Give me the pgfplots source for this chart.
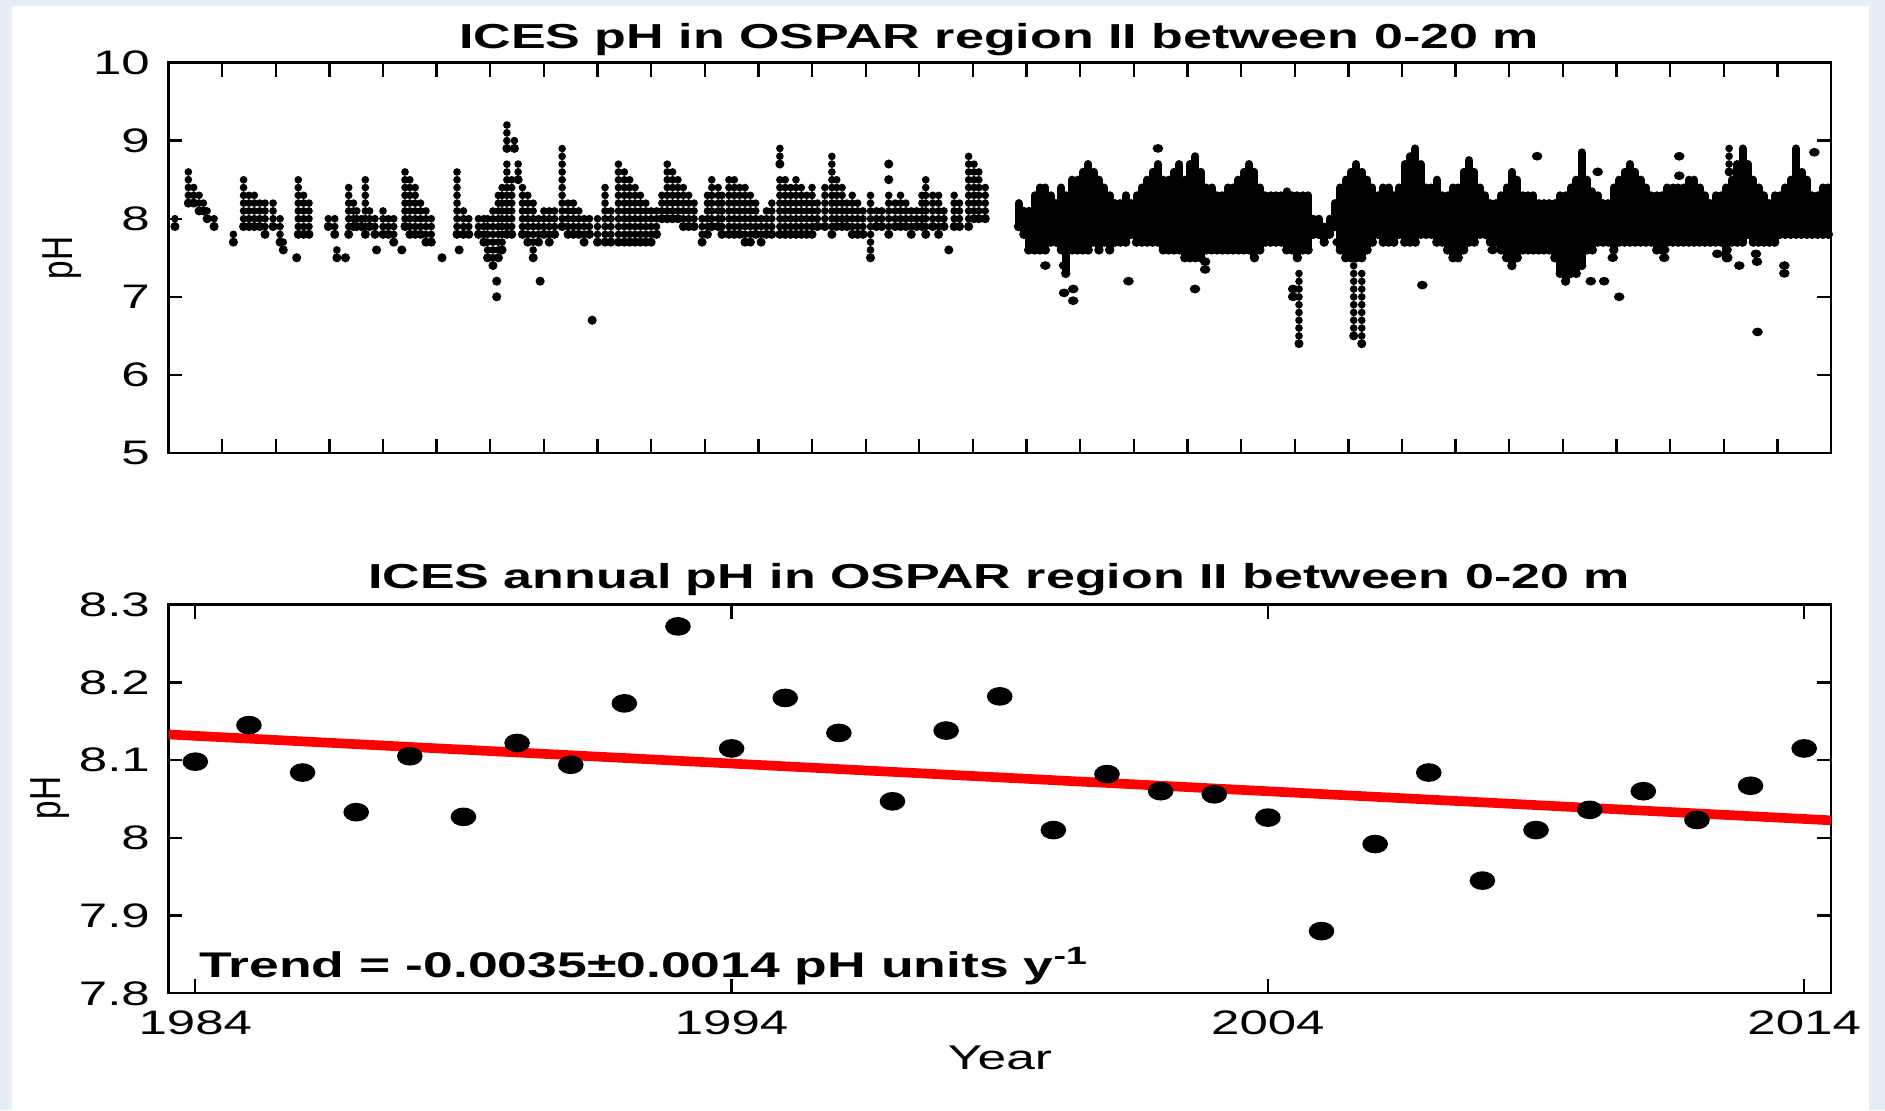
\documentclass[border=0pt]{standalone}
\usepackage{pgfplots}
\pgfplotsset{compat=1.18}
\usepackage{fontspec}
\setmainfont{Liberation Sans}
\usepackage{graphicx}
\definecolor{bgblue}{RGB}{232,238,246}
\newcommand{\hs}[1]{\scalebox{1.5}[1]{#1}}
\newcommand{\tkfont}{\fontsize{10.2pt}{12pt}\selectfont}

\begin{document}
\begin{tikzpicture}[x=1pt,y=1pt]
\useasboundingbox (0,0) rectangle (565.5,333);
\fill[bgblue] (0,0) rectangle (565.5,333);
\fill[white] (3.6,0) rectangle (560.7,331.2);

% ---------------- top panel ----------------
\begin{axis}[
  at={(50.55pt,197.1pt)}, anchor=south west,
  scale only axis, width=498.75pt, height=117.15pt,
  xmin=1984, xmax=2015, ymin=5, ymax=10,
  xtick={1985,1986,...,2014}, xticklabels={},
  ytick={5,6,7,8,9,10},
  yticklabels={\hs{5},\hs{6},\hs{7},\hs{8},\hs{9},\hs{10}},
  yticklabel style={anchor=east, inner sep=0pt, xshift=-5.4pt, font=\tkfont},
  major tick length=4.2pt,
  axis line style={line width=0.7pt},
  every tick/.style={black, line width=0.7pt},
  clip=true,
]
% columns of samples at 0.1 pH resolution: time, lowest, highest
\addplot[only marks, mark=*, mark size=1.15pt, black,
  error bars/.cd, y dir=plus, y explicit, error mark=none,
  error bar style={line width=2.3pt, line cap=round, dash pattern=on 0pt off 2.338pt}]
  table[x=t, y=lo, y error expr=\thisrow{hi}-\thisrow{lo}] {
t lo hi
1984.12 7.9 8.0
1984.37 8.2 8.6
1984.47 8.2 8.4
1984.57 8.1 8.3
1984.65 8.1 8.2
1984.72 8.0 8.1
1984.85 7.9 8.0
1985.21 7.7 7.8
1985.40 7.9 8.5
1985.50 7.9 8.3
1985.60 7.9 8.3
1985.70 7.9 8.2
1985.80 7.8 8.2
1985.95 7.9 8.2
1986.08 7.7 8.0
1986.14 7.6 7.7
1986.39 7.5 7.5
1986.42 7.8 8.5
1986.52 7.8 8.3
1986.62 7.8 8.2
1986.98 7.9 8.0
1987.10 7.8 8.0
1987.14 7.5 7.6
1987.30 7.5 7.5
1987.36 7.8 8.4
1987.45 7.9 8.2
1987.51 7.9 8.1
1987.60 7.9 8.0
1987.67 7.8 8.5
1987.75 7.9 8.1
1987.85 7.8 8.0
1987.88 7.6 7.6
1988.00 7.8 8.1
1988.10 7.8 8.0
1988.20 7.7 8.0
1988.35 7.6 7.6
1988.41 7.9 8.6
1988.50 7.8 8.5
1988.60 7.8 8.4
1988.70 7.8 8.2
1988.80 7.7 8.1
1988.90 7.7 8.0
1989.10 7.5 7.5
1989.38 7.8 8.6
1989.42 7.6 7.6
1989.50 7.8 8.1
1989.60 7.8 8.0
1989.78 7.8 8.0
1989.88 7.7 8.0
1989.95 7.5 8.0
1990.05 7.4 8.1
1990.12 7.2 7.2
1990.12 7.0 7.0
1990.15 7.5 8.3
1990.22 7.6 8.4
1990.31 8.9 9.2
1990.31 7.8 8.7
1990.40 7.8 8.5
1990.45 8.9 9.0
1990.52 8.5 8.7
1990.60 7.8 8.4
1990.70 7.7 8.3
1990.80 7.5 8.2
1990.90 7.7 8.0
1990.93 7.2 7.2
1991.00 7.8 8.1
1991.10 7.7 8.1
1991.20 7.8 8.1
1991.34 7.9 8.9
1991.45 7.8 8.2
1991.55 7.8 8.2
1991.65 7.8 8.1
1991.75 7.7 8.0
1991.85 7.8 8.0
1991.90 6.7 6.7
1992.00 7.7 8.0
1992.14 7.7 8.4
1992.25 7.7 8.1
1992.39 7.7 8.7
1992.50 7.7 8.6
1992.60 7.7 8.5
1992.70 7.7 8.4
1992.80 7.7 8.3
1992.90 7.7 8.2
1993.00 7.7 8.1
1993.10 7.8 8.1
1993.20 8.0 8.3
1993.30 8.0 8.7
1993.40 8.0 8.6
1993.50 8.0 8.5
1993.60 7.9 8.4
1993.70 7.9 8.3
1993.80 7.9 8.2
1993.95 7.7 8.0
1994.05 7.8 8.3
1994.13 7.9 8.5
1994.25 7.9 8.4
1994.32 7.8 8.3
1994.45 7.8 8.5
1994.55 7.8 8.5
1994.65 7.8 8.4
1994.75 7.7 8.4
1994.85 7.7 8.3
1994.95 7.8 8.2
1995.05 7.7 8.0
1995.15 7.8 8.1
1995.25 7.8 8.2
1995.40 8.7 8.9
1995.40 7.8 8.5
1995.50 7.8 8.5
1995.60 7.8 8.4
1995.70 7.8 8.5
1995.80 7.8 8.4
1995.90 7.8 8.3
1996.00 7.8 8.4
1996.10 7.9 8.2
1996.24 7.9 8.4
1996.37 7.8 8.8
1996.46 7.9 8.5
1996.56 7.9 8.4
1996.65 7.9 8.2
1996.75 7.8 8.3
1996.85 7.8 8.2
1996.95 7.8 8.1
1997.09 7.5 8.3
1997.20 7.9 8.1
1997.30 7.9 8.1
1997.43 8.5 8.5
1997.43 8.7 8.7
1997.43 7.8 8.3
1997.55 7.9 8.2
1997.65 7.9 8.3
1997.75 7.9 8.2
1997.85 7.8 8.1
1997.95 7.9 8.1
1998.05 7.9 8.3
1998.12 7.8 8.5
1998.25 7.9 8.3
1998.36 7.8 8.3
1998.46 7.9 8.1
1998.55 7.6 7.6
1998.65 7.9 8.3
1998.75 7.9 8.2
1998.92 7.9 8.8
1999.02 8.0 8.7
1999.11 8.0 8.6
1999.23 8.0 8.4
2005.08 6.4 7.3
2006.10 6.5 7.4
2006.25 6.4 7.3
2013.08 7.5 7.7
2013.10 8.6 8.9
};
% dense period: envelope of samples per time slice
\addplot[only marks, mark=*, mark size=1.2pt, black,
  error bars/.cd, y dir=plus, y explicit, error mark=none,
  error bar style={line width=2.4pt, line cap=round}]
  table[x=t, y=lo, y error expr=\thisrow{hi}-\thisrow{lo}] {
t lo hi
1999.85 7.9 8.2
1999.95 7.8 8.1
2000.04 7.6 8.1
2000.15 7.6 8.3
2000.25 7.6 8.4
2000.35 7.6 8.4
2000.45 7.7 8.3
2000.55 7.7 8.2
2000.65 7.6 8.4
2000.73 7.3 8.3
2000.85 7.6 8.5
2000.95 7.6 8.5
2001.05 7.6 8.6
2001.15 7.6 8.7
2001.25 7.7 8.6
2001.35 7.6 8.5
2001.45 7.7 8.4
2001.55 7.6 8.3
2001.65 7.7 8.2
2001.75 7.7 8.2
2001.85 7.7 8.3
2001.95 7.8 8.2
2002.05 7.7 8.3
2002.15 7.7 8.4
2002.25 7.7 8.5
2002.35 7.7 8.6
2002.45 7.7 8.7
2002.55 7.6 8.5
2002.65 7.6 8.5
2002.75 7.6 8.6
2002.85 7.6 8.7
2002.95 7.5 8.5
2003.05 7.5 8.7
2003.15 7.5 8.8
2003.25 7.5 8.6
2003.35 7.6 8.4
2003.45 7.6 8.4
2003.55 7.6 8.3
2003.65 7.6 8.3
2003.75 7.6 8.4
2003.85 7.6 8.4
2003.95 7.6 8.5
2004.05 7.6 8.6
2004.15 7.6 8.7
2004.25 7.5 8.6
2004.35 7.6 8.4
2004.45 7.7 8.3
2004.55 7.7 8.3
2004.65 7.7 8.3
2004.75 7.7 8.3
2004.85 7.6 8.35
2004.95 7.6 8.3
2005.05 7.5 8.3
2005.15 7.6 8.3
2005.25 7.6 8.3
2005.35 7.8 8.0
2005.45 7.8 8.0
2005.55 7.7 7.9
2005.65 7.8 8.0
2005.75 7.9 8.2
2005.85 7.6 8.4
2005.95 7.5 8.5
2006.05 7.5 8.6
2006.15 7.5 8.7
2006.25 7.5 8.6
2006.35 7.6 8.5
2006.45 7.7 8.4
2006.55 7.8 8.3
2006.65 7.7 8.4
2006.75 7.7 8.4
2006.85 7.7 8.3
2006.95 7.8 8.4
2007.05 7.7 8.7
2007.15 7.7 8.8
2007.25 7.7 8.9
2007.35 7.8 8.7
2007.45 7.8 8.4
2007.55 7.8 8.4
2007.65 7.7 8.5
2007.75 7.7 8.3
2007.85 7.6 8.3
2007.95 7.5 8.4
2008.05 7.5 8.4
2008.15 7.6 8.6
2008.25 7.7 8.75
2008.35 7.7 8.6
2008.45 7.8 8.4
2008.55 7.8 8.3
2008.65 7.7 8.2
2008.75 7.7 8.2
2008.85 7.6 8.3
2008.95 7.5 8.4
2009.05 7.4 8.6
2009.15 7.5 8.5
2009.25 7.6 8.3
2009.35 7.6 8.3
2009.45 7.6 8.3
2009.55 7.6 8.2
2009.65 7.6 8.2
2009.75 7.6 8.2
2009.85 7.5 8.2
2009.95 7.3 8.3
2010.05 7.2 8.3
2010.15 7.3 8.4
2010.25 7.3 8.5
2010.35 7.4 8.85
2010.45 7.6 8.5
2010.55 7.6 8.35
2010.65 7.7 8.3
2010.75 7.7 8.2
2010.85 7.7 8.2
2010.95 7.6 8.4
2011.05 7.7 8.5
2011.15 7.7 8.6
2011.25 7.7 8.7
2011.35 7.7 8.6
2011.45 7.7 8.5
2011.55 7.7 8.4
2011.65 7.7 8.3
2011.75 7.6 8.3
2011.85 7.6 8.3
2011.95 7.7 8.4
2012.05 7.7 8.4
2012.15 7.7 8.4
2012.25 7.7 8.4
2012.35 7.7 8.5
2012.45 7.7 8.5
2012.55 7.7 8.4
2012.65 7.7 8.3
2012.75 7.7 8.2
2012.85 7.7 8.3
2012.95 7.7 8.3
2013.05 7.5 8.4
2013.15 7.7 8.5
2013.25 7.7 8.7
2013.35 7.7 8.9
2013.45 7.8 8.7
2013.55 7.7 8.5
2013.65 7.7 8.4
2013.75 7.7 8.3
2013.85 7.7 8.2
2013.95 7.7 8.3
2014.05 7.8 8.3
2014.15 7.8 8.4
2014.25 7.8 8.5
2014.35 7.8 8.9
2014.45 7.8 8.6
2014.55 7.8 8.5
2014.65 7.8 8.3
2014.75 7.8 8.3
2014.85 7.8 8.4
2014.95 7.8 8.4
};
% isolated samples
\addplot[only marks, mark=*, mark size=1.1pt, black, mark options={xscale=1.25}]
  table[x=t, y=ph] {
t ph
2000.35 7.4
2000.70 7.4
2000.70 7.05
2000.87 7.1
2000.87 6.95
2001.90 7.2
2002.45 8.9
2003.14 7.1
2003.33 7.45
2003.33 7.35
2004.97 7.1
2004.97 7.0
2005.70 7.95
2005.80 7.7
2007.38 7.15
2008.69 7.6
2009.52 8.8
2010.52 7.2
2010.77 7.2
2010.65 8.6
2010.93 7.5
2011.05 7.0
2011.89 7.6
2011.89 7.5
2012.17 8.8
2012.17 8.55
2012.88 7.55
2013.29 7.4
2013.63 6.55
2013.60 7.55
2013.62 7.45
2014.13 7.4
2014.13 7.3
2014.69 8.85
};
\end{axis}

% ---------------- bottom panel ----------------
\begin{axis}[
  at={(50.55pt,35.01pt)}, anchor=south west,
  scale only axis, width=498.75pt, height=116.6pt,
  xmin=1983.5, xmax=2014.5, ymin=7.8, ymax=8.3,
  xtick={1984,1994,2004,2014},
  xticklabels={\hs{1984},\hs{1994},\hs{2004},\hs{2014}},
  ytick={7.8,7.9,8,8.1,8.2,8.3},
  yticklabels={\hs{7.8},\hs{7.9},\hs{8},\hs{8.1},\hs{8.2},\hs{8.3}},
  yticklabel style={anchor=east, inner sep=0pt, xshift=-5.4pt, font=\tkfont},
  xticklabel style={anchor=base, inner sep=0pt, yshift=-12.3pt, font=\tkfont},
  major tick length=4.2pt,
  axis line style={line width=0.7pt},
  every tick/.style={black, line width=0.7pt},
]
\addplot[red, line width=2.9pt] coordinates {(1983.5,8.133) (2014.5,8.0225)};
\addplot[only marks, mark=*, mark size=2.6pt, black, mark options={xscale=1.4}]
  table[x=year, y=ph] {
year ph
1984 8.098
1985 8.145
1986 8.084
1987 8.033
1988 8.105
1989 8.027
1990 8.122
1991 8.094
1992 8.173
1993 8.272
1994 8.115
1995 8.180
1996 8.135
1997 8.047
1998 8.138
1999 8.182
2000 8.010
2001 8.082
2002 8.060
2003 8.056
2004 8.026
2005 7.880
2006 7.992
2007 8.084
2008 7.945
2009 8.010
2010 8.036
2011 8.060
2012 8.023
2013 8.067
2014 8.115
};
\end{axis}

% ---------------- titles and labels ----------------
\node[anchor=base, inner sep=0pt] at (299.7,318.5)
  {\fontsize{10.4pt}{12pt}\selectfont\bfseries\hs{ICES pH in OSPAR region II between 0-20 m}};
\node[anchor=base, inner sep=0pt] at (299.7,156.6)
  {\fontsize{10.4pt}{12pt}\selectfont\bfseries\hs{ICES annual pH in OSPAR region II between 0-20 m}};
\node[anchor=base, inner sep=0pt] at (300,12.3)
  {\fontsize{10.3pt}{12pt}\selectfont\hs{Year}};
\node[rotate=90, inner sep=0pt] at (18.6,255.6)
  {\fontsize{10pt}{12pt}\selectfont\scalebox{1}[1.3]{pH}};
\node[rotate=90, inner sep=0pt] at (15,93.6)
  {\fontsize{10pt}{12pt}\selectfont\scalebox{1}[1.3]{pH}};
\node[anchor=base west, inner sep=0pt] at (59.5,39.8)
  {\fontsize{10.7pt}{12pt}\selectfont\bfseries\hs{Trend = -0.0035±0.0014 pH units y\textsuperscript{-1}}};
\end{tikzpicture}
\end{document}
